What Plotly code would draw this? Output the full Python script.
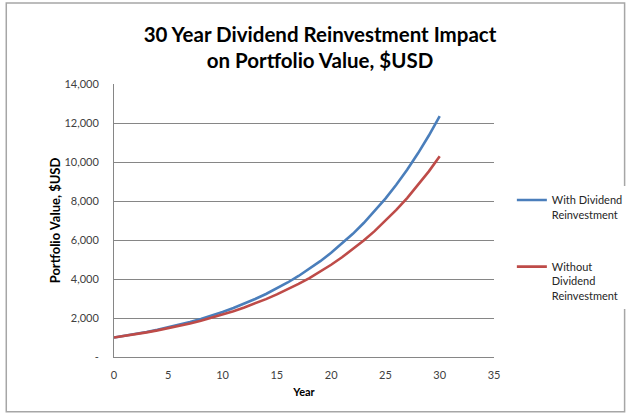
import plotly.graph_objects as go

# portfolio value, one point per year
years = list(range(0, 31))
with_reinvest = [1000, 1087, 1182, 1286, 1398, 1520, 1653, 1798, 1955, 2126,
                 2312, 2514, 2733, 2972, 3232, 3514, 3821, 4155, 4519, 4914,
                 5343, 5810, 6318, 6870, 7470, 8123, 8833, 9605, 10445, 11358,
                 12350]
without_reinvest = [1000, 1081, 1168, 1263, 1365, 1475, 1594, 1723, 1862, 2012,
                    2175, 2351, 2541, 2746, 2968, 3208, 3467, 3747, 4050, 4377,
                    4730, 5113, 5526, 5972, 6455, 6976, 7540, 8149, 8808, 9520,
                    10289]

y_ticks = [0, 2000, 4000, 6000, 8000, 10000, 12000, 14000]
y_labels = ["-", "2,000", "4,000", "6,000", "8,000", "10,000", "12,000", "14,000"]
x_ticks = [0, 5, 10, 15, 20, 25, 30, 35]

FONT = "Lato"
GRID = "#868686"

fig = go.Figure()
fig.add_trace(go.Scatter(
    x=years, y=with_reinvest, mode="lines",
    name="With Dividend<br>Reinvestment", legendgroup="a",
    line=dict(color="#4A7EBB", width=2.6),
))
fig.add_trace(go.Scatter(
    x=years, y=without_reinvest, mode="lines",
    name="Without<br>Dividend<br>Reinvestment", legendgroup="b",
    line=dict(color="#BE4B48", width=2.6),
))

# outer chart border, in paper units of the plot area
fig.add_shape(type="rect", xref="paper", yref="paper",
              x0=-0.2835, x1=1.3437, y0=-0.2004, y1=1.2967,
              line=dict(color="#A6A6A6", width=1.5))

fig.update_layout(
    width=640, height=418,
    margin=dict(l=114, r=139, t=84, b=61),
    paper_bgcolor="white", plot_bgcolor="white",
    font=dict(family=FONT, size=11, color="#404040"),
    title=dict(
        text="30 Year Dividend Reinvestment Impact<br>on Portfolio Value, $USD",
        x=0.5, xref="container", xanchor="center",
        y=0.9, yref="container", yanchor="bottom",
        font=dict(family=FONT, size=20.5, color="black", weight="bold"),
    ),
    legend=dict(
        x=1.047, y=0.625, xanchor="left", yanchor="top",
        valign="top", tracegroupgap=35,
        font=dict(family=FONT, size=11, color="#262626"),
        itemwidth=30,
    ),
    showlegend=True,
)

fig.update_xaxes(
    range=[0, 35], tickvals=x_ticks, showgrid=False, zeroline=False,
    showline=True, linecolor=GRID, linewidth=1,
    ticks="", ticklabelstandoff=8,
    title=dict(text="Year", standoff=8,
               font=dict(family=FONT, size=11, color="black", weight="bold")),
)
fig.update_yaxes(
    range=[0, 14000], tickvals=y_ticks, ticktext=y_labels,
    showgrid=True, gridcolor=GRID, gridwidth=1, zeroline=False,
    showline=True, linecolor=GRID, linewidth=1,
    ticks="", ticklabelstandoff=12,
    title=dict(text="Portfolio Value, $USD", standoff=0,
               font=dict(family=FONT, size=13, color="black", weight="bold")),
)

# the page's default body margin would push the figure 8px off
fig.write_html("out.html", config={"displayModeBar": False},
               post_script="document.body.style.margin='0';")
